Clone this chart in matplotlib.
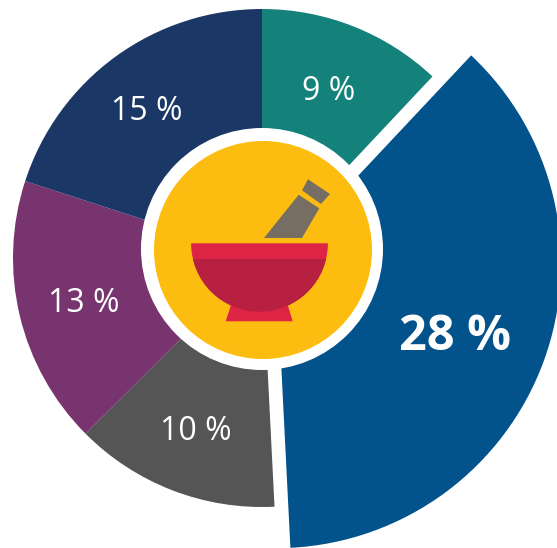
import matplotlib
matplotlib.use("Agg")
import matplotlib.pyplot as plt
from matplotlib.patches import Circle, Polygon, Rectangle, Wedge

plt.rcParams['font.family'] = ['Open Sans', 'DejaVu Sans']

# slice sizes, the printed labels are rounded
values = [9, 27.9, 10, 13.1, 15]
labels = ["9 %", "28 %", "10 %", "13 %", "15 %"]
colors = ["#14827a", "#02528b", "#555555", "#78346f", "#1b3765"]
explode = [0, 15, 0, 0, 0]

label_x = [329, 455, 196, 84, 147]
label_y = [92, 338, 431, 303, 112]
label_size = [23, 35, 23, 23, 23]
label_weight = ["normal", "bold", "normal", "normal", "normal"]

fig = plt.figure(figsize=(5.57, 5.48), dpi=100)
ax = fig.add_axes([0, 0, 1, 1])

# y axis is flipped so positions read like image pixels, so -90 is the top of the pie
wedges, _ = ax.pie(values, colors=colors, explode=explode, radius=249, center=(262, 258),
                   startangle=-90, counterclock=True, wedgeprops={"linewidth": 0})
wedges[1].set_radius(285)

ax.set_xlim(0, 557)
ax.set_ylim(548, 0)
ax.set_aspect("equal")
ax.axis("off")

ax.add_patch(Circle((262, 249), 121, fc="white", ec="none", zorder=3))
ax.add_patch(Circle((263, 250), 109, fc="#fdbd10", ec="none", zorder=4))

# mortar and pestle icon
ax.add_patch(Polygon([(264, 238), (302, 238), (319.3, 208.3), (298.7, 194.7)], fc="#766d63", ec="none", zorder=5))
ax.add_patch(Polygon([(308, 179.3), (330, 194), (321, 204), (302, 190.3)], fc="#766d63", ec="none", zorder=5))
ax.add_patch(Polygon([(231, 305), (287.7, 305), (292.7, 321.3), (225.7, 321.3)], fc="#de2445", ec="none", zorder=5))
ax.add_patch(Wedge((259.5, 243.3), 68.4, 0, 180, fc="#de2445", ec="none", zorder=6))
bowl = Wedge((259.5, 243.3), 68.4, 0, 180, fc="#b82041", ec="none", zorder=7)
ax.add_patch(bowl)
bowl.set_clip_path(Rectangle((180, 258.7), 160, 60, transform=ax.transData))

for i in range(len(labels)):
    ax.text(label_x[i], label_y[i], labels[i], color="white", fontsize=label_size[i],
            fontweight=label_weight[i], ha="center", va="center", zorder=8)

fig.savefig("out.png", dpi=100)
